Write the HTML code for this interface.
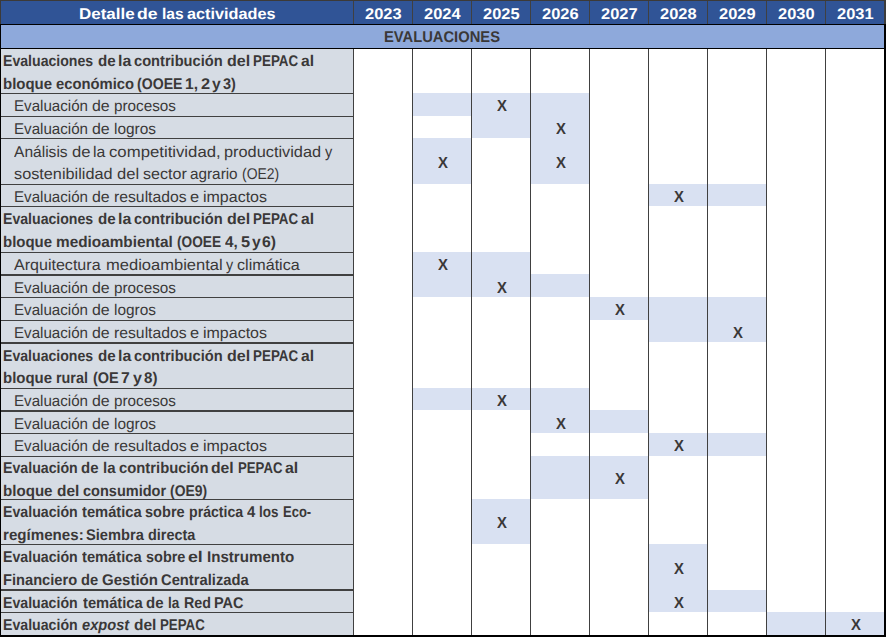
<!DOCTYPE html>
<html><head><meta charset="utf-8"><title>Detalle de las actividades</title><style>
html,body{margin:0;padding:0;background:#fff;width:886px;height:637px;overflow:hidden;position:relative}
div{position:absolute;box-sizing:border-box}
.w{white-space:pre;line-height:1;font-family:"Liberation Sans",sans-serif;font-size:15.5px;text-rendering:geometricPrecision;transform-origin:0 0;color:#3a3838}
.b{font-weight:700}
.i{font-style:italic}
.h{color:#fff}
</style></head><body>
<div style="left:0px;top:0px;width:886px;height:24px;background:#305496"></div>
<div style="left:0px;top:25px;width:886px;height:23px;background:#8ea9db"></div>
<div style="left:0px;top:49px;width:353px;height:586px;background:#d6dce4"></div>
<div style="left:412px;top:93px;width:59px;height:23px;background:#d9e1f2"></div>
<div style="left:471px;top:93px;width:59px;height:23px;background:#d9e1f2"></div>
<div style="left:530px;top:93px;width:59px;height:23px;background:#d9e1f2"></div>
<div style="left:471px;top:116px;width:59px;height:22px;background:#d9e1f2"></div>
<div style="left:530px;top:116px;width:59px;height:22px;background:#d9e1f2"></div>
<div style="left:412px;top:138px;width:59px;height:46px;background:#d9e1f2"></div>
<div style="left:530px;top:138px;width:59px;height:46px;background:#d9e1f2"></div>
<div style="left:648px;top:184px;width:59px;height:22px;background:#d9e1f2"></div>
<div style="left:707px;top:184px;width:59px;height:22px;background:#d9e1f2"></div>
<div style="left:412px;top:252px;width:59px;height:22px;background:#d9e1f2"></div>
<div style="left:471px;top:252px;width:59px;height:22px;background:#d9e1f2"></div>
<div style="left:412px;top:274px;width:59px;height:23px;background:#d9e1f2"></div>
<div style="left:471px;top:274px;width:59px;height:23px;background:#d9e1f2"></div>
<div style="left:530px;top:274px;width:59px;height:23px;background:#d9e1f2"></div>
<div style="left:589px;top:297px;width:59px;height:23px;background:#d9e1f2"></div>
<div style="left:648px;top:297px;width:59px;height:23px;background:#d9e1f2"></div>
<div style="left:707px;top:297px;width:59px;height:23px;background:#d9e1f2"></div>
<div style="left:648px;top:320px;width:59px;height:22px;background:#d9e1f2"></div>
<div style="left:707px;top:320px;width:59px;height:22px;background:#d9e1f2"></div>
<div style="left:412px;top:388px;width:59px;height:22px;background:#d9e1f2"></div>
<div style="left:471px;top:388px;width:59px;height:22px;background:#d9e1f2"></div>
<div style="left:530px;top:388px;width:59px;height:22px;background:#d9e1f2"></div>
<div style="left:530px;top:410px;width:59px;height:23px;background:#d9e1f2"></div>
<div style="left:589px;top:410px;width:59px;height:23px;background:#d9e1f2"></div>
<div style="left:648px;top:433px;width:59px;height:23px;background:#d9e1f2"></div>
<div style="left:707px;top:433px;width:59px;height:23px;background:#d9e1f2"></div>
<div style="left:530px;top:456px;width:59px;height:43px;background:#d9e1f2"></div>
<div style="left:589px;top:456px;width:59px;height:43px;background:#d9e1f2"></div>
<div style="left:471px;top:499px;width:59px;height:45px;background:#d9e1f2"></div>
<div style="left:648px;top:544px;width:59px;height:46px;background:#d9e1f2"></div>
<div style="left:648px;top:590px;width:59px;height:22px;background:#d9e1f2"></div>
<div style="left:707px;top:590px;width:59px;height:22px;background:#d9e1f2"></div>
<div style="left:766px;top:612px;width:59px;height:23px;background:#d9e1f2"></div>
<div style="left:825px;top:612px;width:59px;height:23px;background:#d9e1f2"></div>
<div style="left:0px;top:0px;width:886px;height:1px;background:#3c3a38"></div>
<div style="left:0px;top:0px;width:1px;height:24px;background:#3c3a38"></div>
<div style="left:884px;top:0px;width:2px;height:24px;background:#3c3c3c"></div>
<div style="left:353px;top:1px;width:1px;height:23px;background:#404040"></div>
<div style="left:412px;top:1px;width:1px;height:23px;background:#404040"></div>
<div style="left:471px;top:1px;width:1px;height:23px;background:#404040"></div>
<div style="left:530px;top:1px;width:1px;height:23px;background:#404040"></div>
<div style="left:589px;top:1px;width:1px;height:23px;background:#404040"></div>
<div style="left:648px;top:1px;width:1px;height:23px;background:#404040"></div>
<div style="left:707px;top:1px;width:1px;height:23px;background:#404040"></div>
<div style="left:766px;top:1px;width:1px;height:23px;background:#404040"></div>
<div style="left:825px;top:1px;width:1px;height:23px;background:#404040"></div>
<div style="left:0px;top:24px;width:886px;height:1px;background:#000"></div>
<div style="left:0px;top:48px;width:886px;height:1px;background:#000"></div>
<div style="left:0px;top:24px;width:1px;height:613px;background:#000"></div>
<div style="left:884px;top:24px;width:2px;height:613px;background:#000"></div>
<div style="left:0px;top:635px;width:886px;height:2px;background:#000"></div>
<div style="left:353px;top:49px;width:1px;height:586px;background:#404040"></div>
<div style="left:412px;top:49px;width:1px;height:586px;background:#404040"></div>
<div style="left:471px;top:49px;width:1px;height:586px;background:#404040"></div>
<div style="left:530px;top:49px;width:1px;height:586px;background:#404040"></div>
<div style="left:589px;top:49px;width:1px;height:586px;background:#404040"></div>
<div style="left:648px;top:49px;width:1px;height:586px;background:#404040"></div>
<div style="left:707px;top:49px;width:1px;height:586px;background:#404040"></div>
<div style="left:766px;top:49px;width:1px;height:586px;background:#404040"></div>
<div style="left:825px;top:49px;width:1px;height:586px;background:#404040"></div>
<div style="left:1px;top:93px;width:352px;height:1px;background:#404040"></div>
<div style="left:1px;top:116px;width:352px;height:1px;background:#404040"></div>
<div style="left:1px;top:138px;width:352px;height:1px;background:#404040"></div>
<div style="left:1px;top:184px;width:352px;height:1px;background:#404040"></div>
<div style="left:1px;top:206px;width:352px;height:1px;background:#404040"></div>
<div style="left:1px;top:252px;width:352px;height:1px;background:#404040"></div>
<div style="left:1px;top:274px;width:352px;height:2px;background:#404040"></div>
<div style="left:1px;top:297px;width:352px;height:1px;background:#404040"></div>
<div style="left:1px;top:320px;width:352px;height:1px;background:#404040"></div>
<div style="left:1px;top:342px;width:352px;height:2px;background:#404040"></div>
<div style="left:1px;top:388px;width:352px;height:1px;background:#404040"></div>
<div style="left:1px;top:410px;width:352px;height:2px;background:#404040"></div>
<div style="left:1px;top:433px;width:352px;height:1px;background:#404040"></div>
<div style="left:1px;top:456px;width:352px;height:1px;background:#404040"></div>
<div style="left:1px;top:499px;width:352px;height:1px;background:#404040"></div>
<div style="left:1px;top:544px;width:352px;height:1px;background:#404040"></div>
<div style="left:1px;top:589px;width:352px;height:2px;background:#404040"></div>
<div style="left:1px;top:612px;width:352px;height:1px;background:#404040"></div>
<div class="w b" style="left:3.09px;top:54.24px;transform:scaleX(0.9102)">Evaluaciones</div>
<div class="w b" style="left:97.52px;top:54.24px;transform:scaleX(0.9765)">de</div>
<div class="w b" style="left:118.07px;top:54.24px;transform:scaleX(1.0250)">la</div>
<div class="w b" style="left:134.46px;top:54.24px;transform:scaleX(0.9446)">contribución</div>
<div class="w b" style="left:226.56px;top:54.24px;transform:scaleX(1.0350)">del</div>
<div class="w b" style="left:253.04px;top:54.24px;transform:scaleX(0.8647)">PEPAC</div>
<div class="w b" style="left:301.39px;top:54.24px;transform:scaleX(1.0091)">al</div>
<div class="w b" style="left:3.08px;top:77.24px;transform:scaleX(0.9663)">bloque</div>
<div class="w b" style="left:56.25px;top:77.24px;transform:scaleX(0.9537)">económico</div>
<div class="w b" style="left:137.29px;top:77.24px;transform:scaleX(0.9104)">(OOEE</div>
<div class="w b" style="left:184.79px;top:77.24px;transform:scaleX(1.0091)">1,</div>
<div class="w b" style="left:200.64px;top:77.24px;transform:scaleX(1.0571)">2</div>
<div class="w b" style="left:211.80px;top:77.24px;transform:scaleX(1.0125)">y</div>
<div class="w b" style="left:223.37px;top:77.24px;transform:scaleX(0.9333)">3)</div>
<div class="w" style="left:14.02px;top:99.24px;transform:scaleX(0.9757)">Evaluación</div>
<div class="w" style="left:91.87px;top:99.24px;transform:scaleX(1.0267)">de</div>
<div class="w" style="left:114.21px;top:99.24px;transform:scaleX(0.9852)">procesos</div>
<div class="w" style="left:14.02px;top:122.24px;transform:scaleX(0.9757)">Evaluación</div>
<div class="w" style="left:91.87px;top:122.24px;transform:scaleX(1.0267)">de</div>
<div class="w" style="left:114.00px;top:122.24px;transform:scaleX(0.9951)">logros</div>
<div class="w" style="left:14.00px;top:145.24px;transform:scaleX(1.0038)">Análisis</div>
<div class="w" style="left:71.73px;top:145.24px;transform:scaleX(1.0733)">de</div>
<div class="w" style="left:92.78px;top:145.24px;transform:scaleX(1.0182)">la</div>
<div class="w" style="left:108.82px;top:145.24px;transform:scaleX(1.0802)">competitividad,</div>
<div class="w" style="left:224.25px;top:145.24px;transform:scaleX(1.0533)">productividad</div>
<div class="w" style="left:325.00px;top:145.24px;transform:scaleX(0.9375)">y</div>
<div class="w" style="left:14.25px;top:167.24px;transform:scaleX(1.0489)">sostenibilidad</div>
<div class="w" style="left:116.63px;top:167.24px;transform:scaleX(1.0684)">del</div>
<div class="w" style="left:142.56px;top:167.24px;transform:scaleX(1.0366)">sector</div>
<div class="w" style="left:189.61px;top:167.24px;transform:scaleX(0.9872)">agrario</div>
<div class="w" style="left:242.10px;top:167.24px;transform:scaleX(0.9000)">(OE2)</div>
<div class="w" style="left:14.02px;top:190.24px;transform:scaleX(0.9757)">Evaluación</div>
<div class="w" style="left:91.87px;top:190.24px;transform:scaleX(1.0267)">de</div>
<div class="w" style="left:113.98px;top:190.24px;transform:scaleX(1.0157)">resultados</div>
<div class="w" style="left:190.34px;top:190.24px;transform:scaleX(1.0571)">e</div>
<div class="w" style="left:203.27px;top:190.24px;transform:scaleX(1.0317)">impactos</div>
<div class="w b" style="left:3.09px;top:212.24px;transform:scaleX(0.9102)">Evaluaciones</div>
<div class="w b" style="left:97.52px;top:212.24px;transform:scaleX(0.9765)">de</div>
<div class="w b" style="left:118.07px;top:212.24px;transform:scaleX(1.0250)">la</div>
<div class="w b" style="left:134.46px;top:212.24px;transform:scaleX(0.9446)">contribución</div>
<div class="w b" style="left:226.56px;top:212.24px;transform:scaleX(1.0350)">del</div>
<div class="w b" style="left:253.04px;top:212.24px;transform:scaleX(0.8647)">PEPAC</div>
<div class="w b" style="left:301.39px;top:212.24px;transform:scaleX(1.0091)">al</div>
<div class="w b" style="left:3.08px;top:235.24px;transform:scaleX(0.9663)">bloque</div>
<div class="w b" style="left:56.21px;top:235.24px;transform:scaleX(0.9888)">medioambiental</div>
<div class="w b" style="left:176.92px;top:235.24px;transform:scaleX(0.8833)">(OOEE</div>
<div class="w b" style="left:225.10px;top:235.24px;transform:scaleX(0.9833)">4,</div>
<div class="w b" style="left:240.64px;top:235.24px;transform:scaleX(1.0571)">5</div>
<div class="w b" style="left:251.80px;top:235.24px;transform:scaleX(1.0125)">y</div>
<div class="w b" style="left:262.28px;top:235.24px;transform:scaleX(1.0167)">6)</div>
<div class="w" style="left:14.00px;top:258.24px;transform:scaleX(1.0357)">Arquitectura</div>
<div class="w" style="left:105.83px;top:258.24px;transform:scaleX(1.0664)">medioambiental</div>
<div class="w" style="left:226.20px;top:258.24px;transform:scaleX(0.9250)">y</div>
<div class="w" style="left:236.76px;top:258.24px;transform:scaleX(1.0407)">climática</div>
<div class="w" style="left:14.02px;top:281.24px;transform:scaleX(0.9757)">Evaluación</div>
<div class="w" style="left:91.87px;top:281.24px;transform:scaleX(1.0267)">de</div>
<div class="w" style="left:114.21px;top:281.24px;transform:scaleX(0.9852)">procesos</div>
<div class="w" style="left:14.02px;top:303.24px;transform:scaleX(0.9757)">Evaluación</div>
<div class="w" style="left:91.87px;top:303.24px;transform:scaleX(1.0267)">de</div>
<div class="w" style="left:114.00px;top:303.24px;transform:scaleX(0.9951)">logros</div>
<div class="w" style="left:14.02px;top:326.24px;transform:scaleX(0.9757)">Evaluación</div>
<div class="w" style="left:91.87px;top:326.24px;transform:scaleX(1.0267)">de</div>
<div class="w" style="left:113.98px;top:326.24px;transform:scaleX(1.0157)">resultados</div>
<div class="w" style="left:190.34px;top:326.24px;transform:scaleX(1.0571)">e</div>
<div class="w" style="left:203.27px;top:326.24px;transform:scaleX(1.0317)">impactos</div>
<div class="w b" style="left:3.09px;top:349.24px;transform:scaleX(0.9102)">Evaluaciones</div>
<div class="w b" style="left:97.52px;top:349.24px;transform:scaleX(0.9765)">de</div>
<div class="w b" style="left:118.07px;top:349.24px;transform:scaleX(1.0250)">la</div>
<div class="w b" style="left:134.46px;top:349.24px;transform:scaleX(0.9446)">contribución</div>
<div class="w b" style="left:226.56px;top:349.24px;transform:scaleX(1.0350)">del</div>
<div class="w b" style="left:253.04px;top:349.24px;transform:scaleX(0.8647)">PEPAC</div>
<div class="w b" style="left:301.39px;top:349.24px;transform:scaleX(1.0091)">al</div>
<div class="w b" style="left:3.08px;top:371.24px;transform:scaleX(0.9663)">bloque</div>
<div class="w b" style="left:56.27px;top:371.24px;transform:scaleX(0.9273)">rural</div>
<div class="w b" style="left:92.97px;top:371.24px;transform:scaleX(0.9346)">(OE</div>
<div class="w b" style="left:120.89px;top:371.24px;transform:scaleX(1.0143)">7</div>
<div class="w b" style="left:132.80px;top:371.24px;transform:scaleX(1.0375)">y</div>
<div class="w b" style="left:143.53px;top:371.24px;transform:scaleX(0.9750)">8)</div>
<div class="w" style="left:14.02px;top:394.24px;transform:scaleX(0.9757)">Evaluación</div>
<div class="w" style="left:91.87px;top:394.24px;transform:scaleX(1.0267)">de</div>
<div class="w" style="left:114.21px;top:394.24px;transform:scaleX(0.9852)">procesos</div>
<div class="w" style="left:14.02px;top:417.24px;transform:scaleX(0.9757)">Evaluación</div>
<div class="w" style="left:91.87px;top:417.24px;transform:scaleX(1.0267)">de</div>
<div class="w" style="left:114.00px;top:417.24px;transform:scaleX(0.9951)">logros</div>
<div class="w" style="left:14.02px;top:439.24px;transform:scaleX(0.9757)">Evaluación</div>
<div class="w" style="left:91.87px;top:439.24px;transform:scaleX(1.0267)">de</div>
<div class="w" style="left:113.98px;top:439.24px;transform:scaleX(1.0157)">resultados</div>
<div class="w" style="left:190.34px;top:439.24px;transform:scaleX(1.0571)">e</div>
<div class="w" style="left:203.27px;top:439.24px;transform:scaleX(1.0317)">impactos</div>
<div class="w b" style="left:3.09px;top:461.24px;transform:scaleX(0.9137)">Evaluación</div>
<div class="w b" style="left:81.44px;top:461.24px;transform:scaleX(0.9647)">de</div>
<div class="w b" style="left:102.73px;top:461.24px;transform:scaleX(0.9667)">la</div>
<div class="w b" style="left:118.54px;top:461.24px;transform:scaleX(0.9554)">contribución</div>
<div class="w b" style="left:210.79px;top:461.24px;transform:scaleX(1.0150)">del</div>
<div class="w b" style="left:237.55px;top:461.24px;transform:scaleX(0.8510)">PEPAC</div>
<div class="w b" style="left:284.87px;top:461.24px;transform:scaleX(1.0273)">al</div>
<div class="w b" style="left:3.08px;top:484.24px;transform:scaleX(0.9745)">bloque</div>
<div class="w b" style="left:56.91px;top:484.24px;transform:scaleX(0.9950)">del</div>
<div class="w b" style="left:82.56px;top:484.24px;transform:scaleX(0.9364)">consumidor</div>
<div class="w b" style="left:169.60px;top:484.24px;transform:scaleX(0.8975)">(OE9)</div>
<div class="w b" style="left:3.09px;top:505.24px;transform:scaleX(0.9137)">Evaluación</div>
<div class="w b" style="left:82.40px;top:505.24px;transform:scaleX(0.9492)">temática</div>
<div class="w b" style="left:145.46px;top:505.24px;transform:scaleX(0.9390)">sobre</div>
<div class="w b" style="left:188.59px;top:505.24px;transform:scaleX(0.9119)">práctica</div>
<div class="w b" style="left:247.10px;top:505.24px;transform:scaleX(0.9625)">4</div>
<div class="w b" style="left:259.23px;top:505.24px;transform:scaleX(0.8667)">los</div>
<div class="w b" style="left:283.36px;top:505.24px;transform:scaleX(0.8375)">Eco-</div>
<div class="w b" style="left:2.96px;top:528.24px;transform:scaleX(0.9758)">regímenes:</div>
<div class="w b" style="left:85.66px;top:528.24px;transform:scaleX(0.9450)">Siembra</div>
<div class="w b" style="left:147.97px;top:528.24px;transform:scaleX(0.9320)">directa</div>
<div class="w b" style="left:3.09px;top:550.24px;transform:scaleX(0.9137)">Evaluación</div>
<div class="w b" style="left:82.40px;top:550.24px;transform:scaleX(0.9476)">temática</div>
<div class="w b" style="left:145.57px;top:550.24px;transform:scaleX(0.9341)">sobre</div>
<div class="w b" style="left:188.25px;top:550.24px;transform:scaleX(1.1455)">el</div>
<div class="w b" style="left:207.03px;top:550.24px;transform:scaleX(0.9750)">Instrumento</div>
<div class="w b" style="left:2.98px;top:573.24px;transform:scaleX(0.9464)">Financiero</div>
<div class="w b" style="left:80.75px;top:573.24px;transform:scaleX(0.9471)">de</div>
<div class="w b" style="left:101.73px;top:573.24px;transform:scaleX(0.9696)">Gestión</div>
<div class="w b" style="left:160.95px;top:573.24px;transform:scaleX(0.9516)">Centralizada</div>
<div class="w b" style="left:3.09px;top:596.24px;transform:scaleX(0.9125)">Evaluación</div>
<div class="w b" style="left:82.60px;top:596.24px;transform:scaleX(0.9492)">temática</div>
<div class="w b" style="left:145.64px;top:596.24px;transform:scaleX(0.9647)">de</div>
<div class="w b" style="left:168.12px;top:596.24px;transform:scaleX(0.8750)">la</div>
<div class="w b" style="left:184.18px;top:596.24px;transform:scaleX(0.9222)">Red</div>
<div class="w b" style="left:213.96px;top:596.24px;transform:scaleX(0.9367)">PAC</div>
<div class="w b" style="left:3.09px;top:618.24px;transform:scaleX(0.9125)">Evaluación</div>
<div class="w b i" style="left:81.66px;top:618.24px;transform:scaleX(0.9449)">expost</div>
<div class="w b" style="left:134.00px;top:618.24px">del</div>
<div class="w b" style="left:160.44px;top:618.24px;transform:scaleX(0.8569)">PEPAC</div>
<div class="w b h" style="left:78.71px;top:7.24px;transform:scaleX(1.0939)">Detalle</div>
<div class="w b h" style="left:137.46px;top:7.24px;transform:scaleX(1.1353)">de</div>
<div class="w b h" style="left:161.79px;top:7.24px;transform:scaleX(1.0100)">las</div>
<div class="w b h" style="left:186.75px;top:7.24px;transform:scaleX(1.0482)">actividades</div>
<div class="w b" style="left:384.05px;top:30.24px;transform:scaleX(0.9504)">EVALUACIONES</div>
<div class="w b h" style="left:365.44px;top:7.24px;transform:scaleX(1.0606)">2023</div>
<div class="w b h" style="left:424.44px;top:7.24px;transform:scaleX(1.0606)">2024</div>
<div class="w b h" style="left:483.44px;top:7.24px;transform:scaleX(1.0606)">2025</div>
<div class="w b h" style="left:542.44px;top:7.24px;transform:scaleX(1.0606)">2026</div>
<div class="w b h" style="left:601.44px;top:7.24px;transform:scaleX(1.0606)">2027</div>
<div class="w b h" style="left:660.44px;top:7.24px;transform:scaleX(1.0606)">2028</div>
<div class="w b h" style="left:719.44px;top:7.24px;transform:scaleX(1.0606)">2029</div>
<div class="w b h" style="left:778.44px;top:7.24px;transform:scaleX(1.0606)">2030</div>
<div class="w b h" style="left:837.44px;top:7.24px;transform:scaleX(1.0606)">2031</div>
<div class="w b" style="left:496.88px;top:98.86px;font-size:16px;transform:scaleX(0.9300)">X</div>
<div class="w b" style="left:555.88px;top:121.86px;font-size:16px;transform:scaleX(0.9300)">X</div>
<div class="w b" style="left:437.88px;top:155.86px;font-size:16px;transform:scaleX(0.9300)">X</div>
<div class="w b" style="left:555.88px;top:155.86px;font-size:16px;transform:scaleX(0.9300)">X</div>
<div class="w b" style="left:673.88px;top:189.86px;font-size:16px;transform:scaleX(0.9300)">X</div>
<div class="w b" style="left:437.88px;top:257.86px;font-size:16px;transform:scaleX(0.9300)">X</div>
<div class="w b" style="left:496.88px;top:280.86px;font-size:16px;transform:scaleX(0.9300)">X</div>
<div class="w b" style="left:614.88px;top:302.86px;font-size:16px;transform:scaleX(0.9300)">X</div>
<div class="w b" style="left:732.88px;top:325.86px;font-size:16px;transform:scaleX(0.9300)">X</div>
<div class="w b" style="left:496.88px;top:393.86px;font-size:16px;transform:scaleX(0.9300)">X</div>
<div class="w b" style="left:555.88px;top:416.86px;font-size:16px;transform:scaleX(0.9300)">X</div>
<div class="w b" style="left:673.88px;top:438.86px;font-size:16px;transform:scaleX(0.9300)">X</div>
<div class="w b" style="left:614.88px;top:471.86px;font-size:16px;transform:scaleX(0.9300)">X</div>
<div class="w b" style="left:496.88px;top:515.86px;font-size:16px;transform:scaleX(0.9300)">X</div>
<div class="w b" style="left:673.88px;top:561.86px;font-size:16px;transform:scaleX(0.9300)">X</div>
<div class="w b" style="left:673.88px;top:595.86px;font-size:16px;transform:scaleX(0.9300)">X</div>
<div class="w b" style="left:850.88px;top:617.86px;font-size:16px;transform:scaleX(0.9300)">X</div>
</body></html>
